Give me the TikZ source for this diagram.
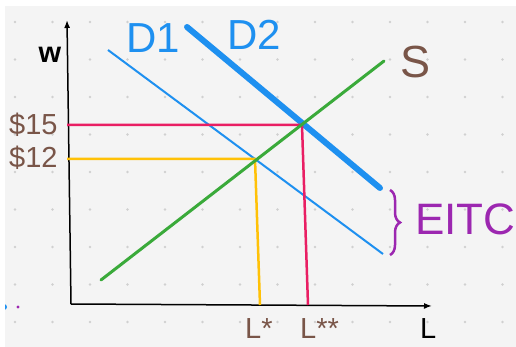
\documentclass[tikz,border=0pt]{standalone}
\usepackage{fontspec}
\setmainfont{Liberation Sans}
\usetikzlibrary{arrows.meta,positioning,decorations.pathreplacing}
\definecolor{dblue}{RGB}{30,144,240}
\definecolor{sgreen}{RGB}{58,170,58}
\definecolor{wred}{RGB}{233,30,99}
\definecolor{wyellow}{RGB}{255,193,7}
\definecolor{lbrown}{RGB}{121,85,72}
\definecolor{eitcpurple}{RGB}{156,39,176}
\definecolor{paper}{RGB}{244,244,244}
\definecolor{griddot}{RGB}{208,208,208}

\begin{document}
\begin{tikzpicture}[x=1pt, y=-1pt,
    axis/.style={line width=1.5pt, -{Latex[length=8pt,width=6pt]}},
    biglabel/.style={font=\fontsize{42}{48}\selectfont, inner sep=0pt, anchor=base west},
    smalllabel/.style={font=\fontsize{29}{34}\selectfont, inner sep=0pt, anchor=base west},
    guide/.style={line width=2.5pt}
]
  % paper and dotted grid
  \useasboundingbox (0,0) rectangle (516,347);
  \fill[white] (0,0) rectangle (516,347);
  \fill[paper] (5,6) rectangle (516,347);
  \foreach \gx in {0,...,13}
    \foreach \gy in {0,...,8}
      \fill[griddot] (15+37.5*\gx, 22+37.5*\gy) circle (1.3);
  \begin{scope}
    \clip (5,6) rectangle (516,347);
    \fill[dblue] (4,307) circle (3);
  \end{scope}
  \fill[eitcpurple] (18,307) circle (1.6);

  % axes
  \coordinate (origin) at (71,304);
  \coordinate (wtop) at (67,20);
  \coordinate (lend) at (432,306);
  \draw[axis] (origin) -- (wtop);
  \draw[axis] (origin) -- (lend);

  % curves
  \coordinate (d1a) at (108,50);
  \coordinate (d1b) at (383,254);
  \coordinate (d2a) at (187,27);
  \coordinate (d2b) at (380,188);
  \coordinate (sa) at (101,280);
  \coordinate (sb) at (384,61);
  \draw[dblue, line width=2pt] (d1a) -- (d1b);
  \draw[dblue, line width=6pt, line cap=round] (d2a) -- (d2b);

  % wage guides
  \coordinate (eqhigh) at (302,125);
  \coordinate (eqlow) at (255,159);
  \draw[wred, guide] (eqhigh -| wtop) -- (eqhigh) -- (308,305);
  \draw[wyellow, guide] (eqlow -| wtop) -- (eqlow) -- (260,305);
  \draw[sgreen, line width=3pt, line cap=round] (sa) -- (sb);

  % EITC brace
  \draw[eitcpurple, line width=2.5pt, decorate,
        decoration={brace, amplitude=10pt}] (390,190) -- (390,255);

  % labels
  \node[biglabel, dblue] (d1lab) at (126,53) {D1};
  \node[biglabel, dblue] (d2lab) at (227,50) {D2};
  \node[biglabel, lbrown, font=\fontsize{45}{50}\selectfont] (slab) at (400,78) {S};
  \node[biglabel, eitcpurple, font=\fontsize{44}{50}\selectfont] (eitclab) at (415,235) {EITC};
  \node[smalllabel, anchor=base, font=\fontsize{29}{34}\selectfont\bfseries] (wlab) at (50,63) {w};
  \node[smalllabel, lbrown] (p15) at (9,135) {\$15};
  \node[smalllabel, lbrown] (p12) at (9,168) {\$12};
  \node[smalllabel, lbrown] (lstar) at (245,338) {L*};
  \node[smalllabel, lbrown] (ldstar) at (300,338) {L**};
  \node[smalllabel] (llab) at (420,338) {L};
\end{tikzpicture}
\end{document}
